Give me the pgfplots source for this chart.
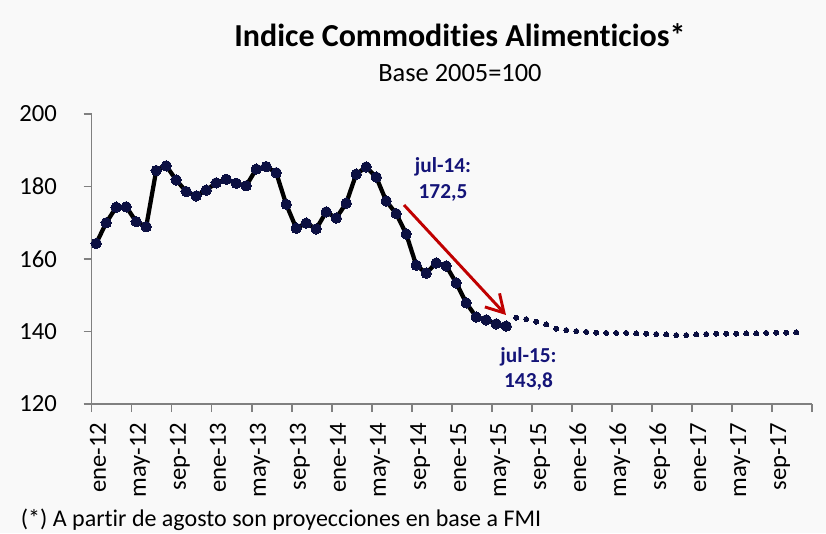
\documentclass[border=0pt]{standalone}
\usepackage{fontspec}
\setmainfont{Carlito}[Ligatures=NoCommon]
\usepackage{pgfplots}
\usepackage{pgfplotstable}
\pgfplotsset{compat=1.18}
\usetikzlibrary{arrows.meta}
\definecolor{bg}{RGB}{249,249,249}
\definecolor{axgray}{RGB}{128,128,128}
\definecolor{mk}{RGB}{12,16,66}
\definecolor{navytxt}{RGB}{20,20,120}
\definecolor{arr}{RGB}{192,0,0}

\pgfplotstableread{
i v
0 164.3
1 170.0
2 174.3
3 174.4
4 170.3
5 168.9
6 184.4
7 185.7
8 181.8
9 178.6
10 177.4
11 179.0
12 181.0
13 182.0
14 180.9
15 180.2
16 184.8
17 185.5
18 183.8
19 175.1
20 168.5
21 169.9
22 168.3
23 173.0
24 171.3
25 175.4
26 183.4
27 185.4
28 182.6
29 176.0
30 172.5
31 166.9
32 158.3
33 156.1
34 158.9
35 158.1
36 153.4
37 147.9
38 144.0
39 143.2
40 142.1
41 141.5
}\real

\pgfplotstableread{
i v
42 143.8
43 143.4
44 142.7
45 142.0
46 140.8
47 140.4
48 140.1
49 139.9
50 139.7
51 139.6
52 139.6
53 139.6
54 139.5
55 139.4
56 139.3
57 139.2
58 139.0
59 139.0
60 139.2
61 139.3
62 139.4
63 139.4
64 139.4
65 139.5
66 139.5
67 139.6
68 139.7
69 139.7
70 139.8
}\fc

\begin{document}
\begin{tikzpicture}
\fill[bg] (-68.775pt,-96.75pt) rectangle (550.725pt,303pt);
\useasboundingbox (-68.775pt,-96.75pt) rectangle (550.725pt,303pt);
\node[anchor=base, font=\fontsize{24}{28}\selectfont\bfseries] at (276.2pt,268pt) {Indice Commodities Alimenticios*};
\node[anchor=base, font=\fontsize{19.8}{24}\selectfont] at (276.2pt,241.7pt) {Base 2005=100};
\node[anchor=base west, inner sep=0pt, font=\fontsize{18}{21}\selectfont] at (-53.25pt,-91.5pt) {(*) A partir de agosto son proyecciones en base a FMI};
\begin{axis}[
  at={(0pt,0pt)}, anchor=south west,
  scale only axis, width=540pt, height=217.5pt,
  xmin=0, xmax=72, ymin=120, ymax=200,
  clip=false,
  axis x line*=bottom, axis y line*=left,
  axis line style={axgray, line width=1.2pt},
  ytick={120,140,...,200},
  xtick={0,4,...,72}, xticklabels={},
  tick align=outside,
  major tick length=6pt,
  tick style={axgray, line width=1.2pt},
  /pgf/number format/assume math mode=true,
  tick label style={font=\fontsize{18.5}{22}\selectfont, text=black},
  yticklabel style={anchor=east, inner sep=0pt},
  yticklabel shift=20pt,
  extra x ticks={0.63,4.63,8.63,12.63,16.63,20.63,24.63,28.63,32.63,36.63,40.63,44.63,48.63,52.63,56.63,60.63,64.63,68.63},
  extra x tick labels={ene-12,may-12,sep-12,ene-13,may-13,sep-13,ene-14,may-14,sep-14,ene-15,may-15,sep-15,ene-16,may-16,sep-16,ene-17,may-17,sep-17},
  extra x tick style={major tick length=0pt, tick style={draw=none},
     xticklabel style={rotate=90, anchor=east, inner sep=0pt, text height=12pt, text depth=0pt}},
  xticklabel shift=14pt,
]
\addplot[black, line width=3.2pt, line join=round, mark=*, mark size=3.9pt,
  mark options={draw=mk, fill=mk, line width=0pt}]
  table[x expr=\thisrow{i}+0.45, y=v] {\real};
\addplot[only marks, mark=*, mark size=1.9pt, mark options={draw=mk, fill=mk, line width=0pt}]
  table[x expr=\thisrow{i}+0.45, y=v] {\fc};
\draw[arr, line width=2.2pt, -{Straight Barb[length=13pt,width=15pt]}]
  (axis cs:31.23,174.9) -- (axis cs:41.43,144.55);
\node[font=\fontsize{16}{19}\selectfont\bfseries, text=navytxt] at (axis cs:35.13,185.46) {jul-14:};
\node[font=\fontsize{16}{19}\selectfont\bfseries, text=navytxt] at (axis cs:35.13,178.3) {172,5};
\node[font=\fontsize{16}{19}\selectfont\bfseries, text=navytxt] at (axis cs:43.68,133.05) {jul-15:};
\node[font=\fontsize{16}{19}\selectfont\bfseries, text=navytxt] at (axis cs:43.68,126.15) {143,8};
\end{axis}
\end{tikzpicture}
\end{document}
